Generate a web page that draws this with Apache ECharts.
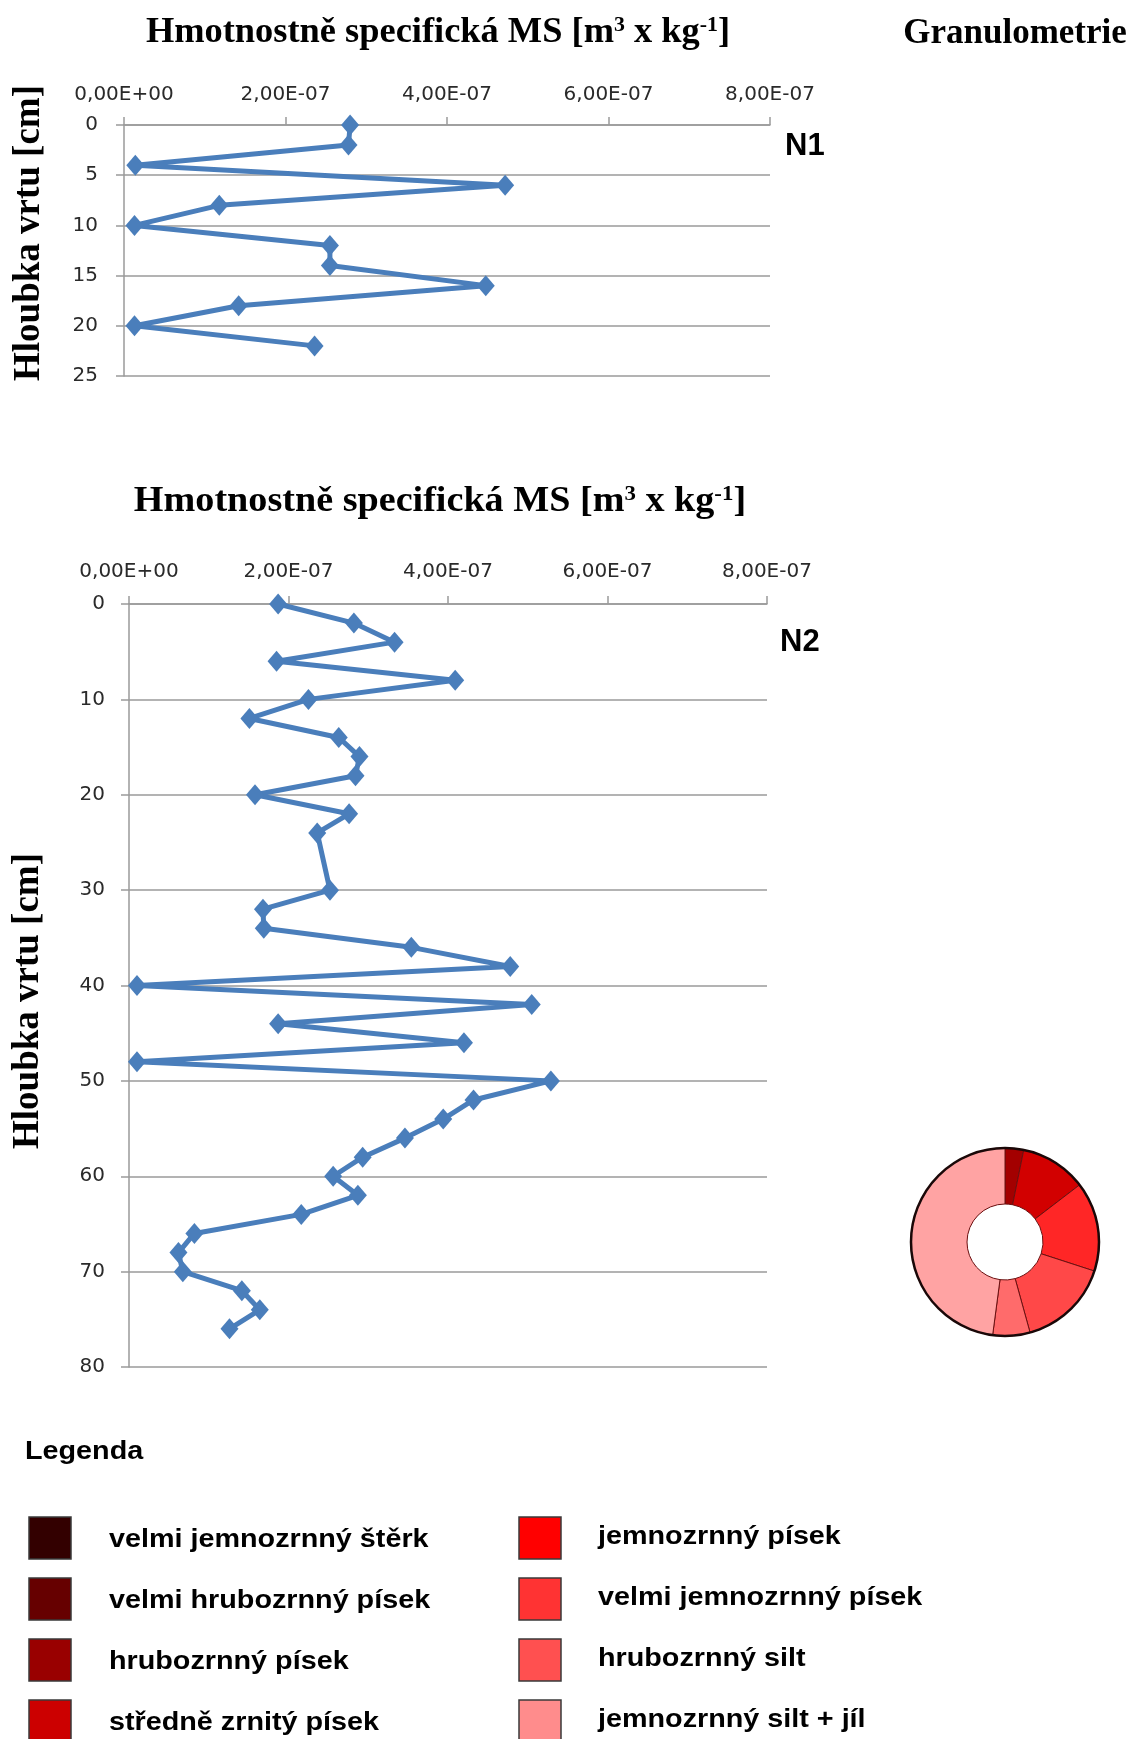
<!DOCTYPE html>
<html><head><meta charset="utf-8">
<script src="https://cdn.jsdelivr.net/npm/echarts@6/dist/echarts.min.js"></script>
<style>html,body{margin:0;padding:0;background:#fff}#c{width:1134px;height:1739px}</style>
</head><body><div id="c"></div>
<script>
// ---- data ----
const xTickLabels = ['0,00E+00', '2,00E-07', '4,00E-07', '6,00E-07', '8,00E-07'];
const n1Depth = [0, 2, 4, 6, 8, 10, 12, 14, 16, 18, 20, 22];
const n1MS = [2.80e-7, 2.78e-7, 1.4e-8, 4.72e-7, 1.18e-7, 1.3e-8, 2.55e-7, 2.55e-7, 4.48e-7, 1.42e-7, 1.3e-8, 2.36e-7];
const n2Depth = [0, 2, 4, 6, 8, 10, 12, 14, 16, 18, 20, 22, 24, 30, 32, 34, 36, 38, 40, 42, 44, 46, 48, 50, 52, 54, 56, 58, 60, 62, 64, 66, 68, 70, 72, 74, 76];
const n2MS = [1.87e-7, 2.82e-7, 3.33e-7, 1.85e-7, 4.09e-7, 2.25e-7, 1.51e-7, 2.63e-7, 2.89e-7, 2.84e-7, 1.58e-7, 2.76e-7, 2.36e-7,
  2.52e-7, 1.68e-7, 1.69e-7, 3.54e-7, 4.78e-7, 1.0e-8, 5.05e-7, 1.87e-7, 4.20e-7, 1.0e-8, 5.29e-7, 4.32e-7, 3.94e-7, 3.46e-7,
  2.93e-7, 2.56e-7, 2.87e-7, 2.16e-7, 8.2e-8, 6.2e-8, 6.75e-8, 1.415e-7, 1.64e-7, 1.26e-7];
const legendNames = ['velmi jemnozrnný štěrk', 'velmi hrubozrnný písek', 'hrubozrnný písek', 'středně zrnitý písek',
  'jemnozrnný písek', 'velmi jemnozrnný písek', 'hrubozrnný silt', 'jemnozrnný silt + jíl'];
const legendColors = ['#330000', '#660000', '#990000', '#cc0000', '#ff0000', '#ff3333', '#ff5050', '#ff8c8c'];
const pieNames = ['hrubozrnný písek', 'středně zrnitý písek', 'jemnozrnný písek', 'velmi jemnozrnný písek', 'hrubozrnný silt', 'jemnozrnný silt + jíl'];
const pieValues = [3.2, 11.4, 15.4, 15.7, 6.4, 47.9];
const pieColors = ['#a30000', '#d20000', '#ff2626', '#ff4848', '#ff6b6b', '#ffa3a3'];

// ---- styling constants ----
const BLUE = '#4a7ebb';
const GRID_C = '#9a9a9a';
const LABEL_FONT = 'DejaVu Sans';
const SERIF = 'Liberation Serif';
const SANS = 'Liberation Sans';
const PIE_C = [1005, 1242];
const PIE_R = [38, 94];

function mkX(gi, margin) {
  return {
    type: 'value', gridIndex: gi, position: 'top', min: 0, max: 8e-7, interval: 2e-7,
    axisLine: { show: true, onZero: false, lineStyle: { color: GRID_C, width: 1.5 } },
    axisTick: { show: true, length: 8, lineStyle: { color: GRID_C, width: 1.5 } },
    axisLabel: { margin: margin, fontFamily: LABEL_FONT, fontSize: 20, color: '#2a2a2a',
      formatter: v => xTickLabels[Math.round(v / 2e-7)] },
    splitLine: { show: false }
  };
}
function mkY(gi, max, interval, margin) {
  return {
    type: 'value', gridIndex: gi, inverse: true, min: 0, max: max, interval: interval, position: 'left',
    axisLine: { show: true, onZero: false, lineStyle: { color: GRID_C, width: 1.5 } },
    axisTick: { show: true, length: 8, lineStyle: { color: GRID_C, width: 1.5 } },
    axisLabel: { margin: margin, fontFamily: LABEL_FONT, fontSize: 20, color: '#2a2a2a' },
    splitLine: { show: true, lineStyle: { color: GRID_C, width: 1.5 } }
  };
}
function mkLine(idx, depth, ms) {
  return {
    type: 'line', xAxisIndex: idx, yAxisIndex: idx, data: depth.map((d, i) => [ms[i], d]),
    symbol: 'diamond', symbolSize: [18, 21], showAllSymbol: true, clip: false,
    lineStyle: { color: BLUE, width: 5 }, itemStyle: { color: BLUE }, silent: true
  };
}
const supStyle = { fontSize: 21, fontFamily: SERIF, fontWeight: 'bold', verticalAlign: 'top', fill: '#000' };
function titleEl(cx, cy, size, sx) {
  return {
    type: 'text', x: cx, y: cy, scaleX: sx,
    style: { text: 'Hmotnostně specifická MS [m{s|3} x kg{s|-1}]', x: 0, y: 0, align: 'center', verticalAlign: 'middle',
      fontSize: size, fontFamily: SERIF, fontWeight: 'bold', fill: '#000', rich: { s: supStyle } }
  };
}
function plainText(x, y, text, font, align, sx, rot) {
  return { type: 'text', x: x, y: y, scaleX: sx || 1, rotation: rot || 0,
    style: { text: text, x: 0, y: 0, align: align, verticalAlign: 'middle', font: font, fill: '#000' } };
}

const graphics = [
  titleEl(438, 33, 35, 1.04),
  titleEl(440, 502, 35, 1.09),
  plainText(1015, 34, 'Granulometrie', 'bold 35px "' + SERIF + '"', 'center'),
  plainText(29, 233, 'Hloubka vrtu [cm]', 'bold 37px "' + SERIF + '"', 'center', 1, Math.PI / 2),
  plainText(28, 1001, 'Hloubka vrtu [cm]', 'bold 37px "' + SERIF + '"', 'center', 1, Math.PI / 2),
  plainText(785, 146, 'N1', 'bold 31px "' + SANS + '"', 'left'),
  plainText(780, 642, 'N2', 'bold 31px "' + SANS + '"', 'left'),
  plainText(25, 1452, 'Legenda', 'bold 25px "' + SANS + '"', 'left', 1.15),
  { type: 'circle', shape: { cx: PIE_C[0], cy: PIE_C[1], r: PIE_R[1] }, style: { fill: 'none', stroke: '#1a0808', lineWidth: 2.5 }, z: 100 }
];
legendNames.forEach((name, i) => {
  const col = i < 4 ? 0 : 1, row = i % 4;
  const bx = col === 0 ? 29 : 519, by = 1517 + row * 61;
  graphics.push({ type: 'rect', shape: { x: bx, y: by, width: 42, height: 42 },
    style: { fill: legendColors[i], stroke: '#3a3a3a', lineWidth: 1.5 } });
  graphics.push(plainText(col === 0 ? 109 : 598, by + 23 - (col === 1 ? 3 : 0), name, 'bold 25px "' + SANS + '"', 'left', 1.15));
});

const option = {
  animation: false,
  backgroundColor: '#fff',
  grid: [
    { left: 124, top: 125, width: 646, height: 251 },
    { left: 129, top: 604, width: 638, height: 763 }
  ],
  xAxis: [mkX(0, 20), mkX(1, 22)],
  yAxis: [mkY(0, 25, 5, 26), mkY(1, 80, 10, 24)],
  series: [
    mkLine(0, n1Depth, n1MS),
    mkLine(1, n2Depth, n2MS),
    {
      type: 'pie', center: PIE_C, radius: PIE_R, startAngle: 90, clockwise: true, silent: true,
      label: { show: false }, labelLine: { show: false },
      itemStyle: { borderColor: '#6b1010', borderWidth: 1 },
      data: pieNames.map((n, i) => ({ name: n, value: pieValues[i], itemStyle: { color: pieColors[i] } }))
    }
  ],
  graphic: { elements: graphics }
};
const chart = echarts.init(document.getElementById('c'), null, { renderer: 'canvas' });
chart.setOption(option);
</script>
</body></html>
